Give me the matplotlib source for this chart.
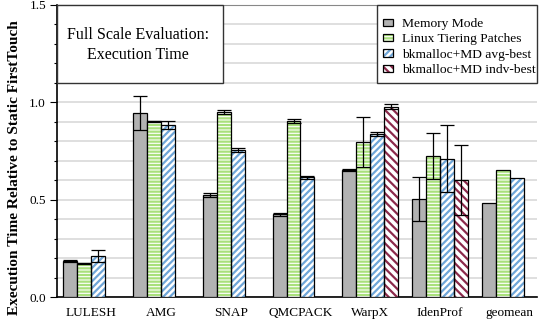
import numpy as np
import matplotlib
matplotlib.use("Agg")
import matplotlib.pyplot as plt
from matplotlib.patches import Patch, Rectangle
from matplotlib.legend_handler import HandlerTuple
from matplotlib.ticker import MultipleLocator

plt.rcParams['font.family'] = ['Liberation Serif', 'DejaVu Serif']
plt.rcParams['hatch.linewidth'] = 1.6

benchmarks = ['LULESH', 'AMG', 'SNAP', 'QMCPACK', 'WarpX', 'IdenProf', 'geomean']

mem_mode = [0.185, 0.945, 0.524, 0.425, 0.652, 0.502, 0.483]
mem_mode_err = [0.003, 0.085, 0.012, 0.008, 0.007, 0.113, 0.0]

tiering = [0.173, 0.902, 0.950, 0.906, 0.796, 0.726, 0.654]
tiering_err = [0.003, 0.003, 0.010, 0.010, 0.130, 0.118, 0.0]

avg_best = [0.212, 0.882, 0.755, 0.615, 0.837, 0.711, 0.610]
avg_best_err = [0.030, 0.020, 0.012, 0.008, 0.010, 0.174, 0.0]

# indv-best only exists for WarpX and IdenProf
indv_best = [np.nan, np.nan, np.nan, np.nan, 0.977, 0.603, np.nan]
indv_best_err = [0, 0, 0, 0, 0.012, 0.180, 0]

series = [
    ('Memory Mode', mem_mode, mem_mode_err, '#b2b2b2', None),
    ('Linux Tiering Patches', tiering, tiering_err, '#a9e07c', '-----'),
    ('bkmalloc+MD avg-best', avg_best, avg_best_err, '#6fa6d8', '/////'),
    ('bkmalloc+MD indv-best', indv_best, indv_best_err, '#8c2a4c', '\\\\\\\\'),
]

fig = plt.figure(figsize=(5.4, 3.24), dpi=100)
ax = fig.add_axes([0.1056, 0.0833, 0.8888, 0.9013])

x = np.arange(len(benchmarks))
w = 0.2
handles = []
for k, (name, vals, errs, color, hatch) in enumerate(series):
    vals = np.array(vals, dtype=float)
    errs = np.array(errs, dtype=float)
    pos = x + (k - 1.5) * w
    ok = ~np.isnan(vals)
    if hatch is None:
        ax.bar(pos[ok], vals[ok], w, color=color, edgecolor='black',
               linewidth=0.9, zorder=3)
        h = Patch(facecolor=color, edgecolor='black', linewidth=0.9)
    else:
        # hatch layer in series colour, then a black outline on top
        ax.bar(pos[ok], vals[ok], w, facecolor='white', edgecolor=color,
               hatch=hatch, linewidth=0, zorder=3)
        ax.bar(pos[ok], vals[ok], w, fill=False, edgecolor='black',
               linewidth=0.9, zorder=4)
        h = (Patch(facecolor='white', edgecolor=color, hatch=hatch, linewidth=0),
             Patch(fill=False, edgecolor='black', linewidth=0.9))
    has_err = ok & (errs > 0)
    ax.errorbar(pos[has_err], vals[has_err], yerr=errs[has_err], fmt='none',
                ecolor='black', elinewidth=0.9, capsize=4.7, capthick=0.9, zorder=5)
    handles.append(h)

ax.set_xlim(-0.49, 6.39)
ax.set_ylim(0, 1.5)
ax.set_xticks(x)
ax.set_xticklabels(benchmarks, fontsize=9.5)
ax.tick_params(axis='x', length=0, pad=7)

ax.yaxis.set_major_locator(MultipleLocator(0.5))
ax.yaxis.set_minor_locator(MultipleLocator(0.1))
ax.set_yticks([0.0, 0.5, 1.0, 1.5])
ax.set_yticklabels(['0.0', '0.5', '1.0', '1.5'], fontsize=9.5)
ax.tick_params(axis='y', which='major', direction='out', length=5, width=0.8, pad=3)
ax.tick_params(axis='y', which='minor', direction='out', length=2.5, width=0.8)
ax.grid(axis='y', which='both', color='#d6d6d6', linewidth=1.1, zorder=0)
ax.set_axisbelow(True)

ax.spines['right'].set_visible(False)
ax.spines['top'].set_color('#888888')
ax.spines['top'].set_linewidth(0.8)
ax.spines['left'].set_linewidth(1.2)
ax.spines['bottom'].set_linewidth(1.2)

ax.set_ylabel('Execution Time Relative to Static FirstTouch', fontsize=11.1,
              fontweight='bold')
ax.yaxis.set_label_coords(-0.075, 0.4435)

# title box in the top-left corner
ax.add_patch(Rectangle((0, 0.734), 0.346, 0.266, transform=ax.transAxes,
                       facecolor='white', edgecolor='#333333', linewidth=1.0,
                       zorder=6, clip_on=False))
ax.text(0.169, 0.864, 'Full Scale Evaluation:\nExecution Time',
        transform=ax.transAxes, ha='center', va='center', fontsize=11.5,
        linespacing=1.3, zorder=7)

# legend box in the top-right corner, frame drawn separately
ax.add_patch(Rectangle((0.667, 0.734), 0.333, 0.266, transform=ax.transAxes,
                       facecolor='white', edgecolor='#333333', linewidth=1.0,
                       zorder=6, clip_on=False))
leg = ax.legend(handles, [s[0] for s in series], loc='upper left',
                bbox_to_anchor=(0.679, 0.955), borderaxespad=0, borderpad=0,
                fontsize=9.7, handlelength=0.74, handleheight=0.45,
                handletextpad=0.7, labelspacing=0.25, frameon=False,
                handler_map={tuple: HandlerTuple(ndivide=1)})
leg.set_zorder(8)

fig.savefig('out.png', dpi=100)
